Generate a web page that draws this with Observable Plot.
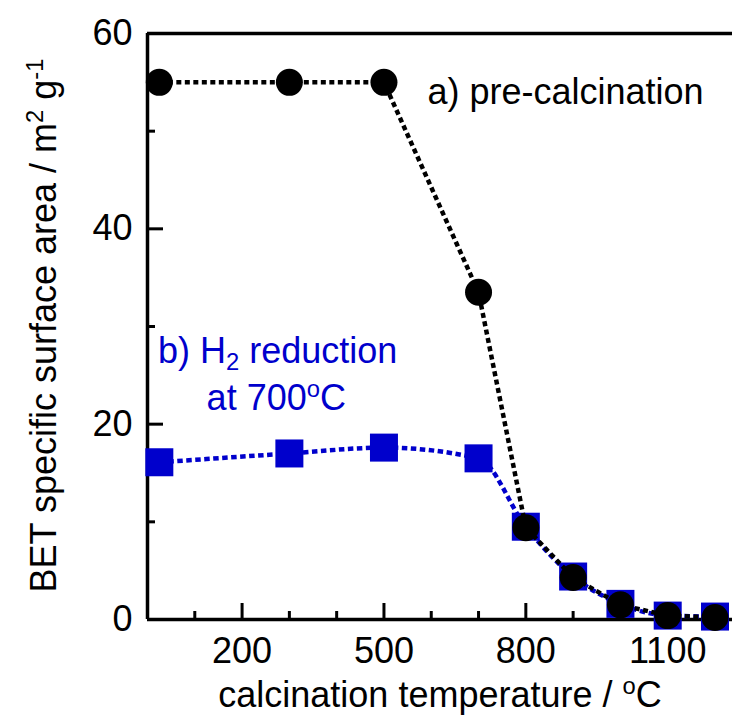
<!DOCTYPE html>
<html><head><meta charset="utf-8">
<script src="https://cdn.jsdelivr.net/npm/d3@7"></script>
<script src="https://cdn.jsdelivr.net/npm/@observablehq/plot@0.6"></script>
<style>
body{margin:0;background:#fff}
svg{font-family:"Liberation Sans",Arial,sans-serif}
</style>
</head><body><div id="chart"></div>
<script>
// data
const temps = [25, 300, 500, 700, 800, 900, 1000, 1100, 1200];
const preCalc = [55.0, 55.0, 55.0, 33.5, 9.4, 4.3, 1.5, 0.4, 0.2];
const h2Red = [16.1, 17.0, 17.6, 16.5, 9.5, 4.4, 1.6, 0.4, 0.3];
const xMajor = [200, 500, 800, 1100];
const xMinor = [100, 300, 400, 600, 700, 900, 1000, 1200];
const yMajor = [0, 20, 40, 60];
const yMinor = [10, 30, 50];
const xTitle = "calcination temperature / {^o}C";
const yTitle = "BET specific surface area / m{^2} g{^-1}";
const labelA = ["a) pre-calcination"];
const labelB1 = ["b) H{_2} reduction"];
const labelB2 = ["at 700{^o}C"];

const blue = "#0000cc";
const FS = 36;
const A = temps.map((t, i) => ({t, v: preCalc[i]}));
const B = temps.map((t, i) => ({t, v: h2Red[i]}));

const chart = Plot.plot({
  width: 732, height: 724,
  marginLeft: 147, marginRight: 0, marginTop: 33, marginBottom: 105,
  x: {domain: [0, 1237], axis: null},
  y: {domain: [0, 60], axis: null},
  style: {fontSize: FS + "px", fontFamily: '"Liberation Sans", Arial, sans-serif', color: "black", background: "white", overflow: "visible"},
  marks: [
    // axis lines
    Plot.ruleX([0], {strokeWidth: 3.5}),
    Plot.ruleY([0, 60], {strokeWidth: 3.5}),
    // ticks (inward)
    Plot.axisX(xMajor, {tickSize: -16, strokeWidth: 3, tickFormat: () => "", label: null}),
    Plot.axisX(xMinor, {tickSize: -8, strokeWidth: 3, tickFormat: () => "", label: null}),
    Plot.axisY(yMajor, {tickSize: -16, strokeWidth: 3, tickFormat: () => "", label: null}),
    Plot.axisY(yMinor, {tickSize: -8, strokeWidth: 3, tickFormat: () => "", label: null}),
    // tick labels
    Plot.axisX(xMajor, {tickSize: 0, tickPadding: 18, label: null, fontSize: FS, tickFormat: d => String(d)}),
    Plot.axisY(yMajor, {tickSize: 0, tickPadding: 15, label: null, fontSize: FS, tickFormat: d => String(d)}),
    // axis titles
    Plot.text([xTitle], {frameAnchor: "bottom", textAnchor: "middle", dy: 87, lineAnchor: "bottom", fontSize: FS}),
    Plot.text([yTitle], {frameAnchor: "left", textAnchor: "middle", dx: -92, dy: -1, rotate: -90, lineAnchor: "bottom", fontSize: FS}),
    // series b
    Plot.line(B, {x: "t", y: "v", stroke: blue, strokeWidth: 4.5, strokeDasharray: "5.5,3.5", strokeLinecap: "butt", curve: "monotone-x"}),
    Plot.dot(B, {x: "t", y: "v", symbol: "square", r: 15.8, fill: blue, stroke: "none"}),
    // series a
    Plot.line(A, {x: "t", y: "v", stroke: "black", strokeWidth: 4.5, strokeDasharray: "5,3.5", strokeLinecap: "butt"}),
    Plot.dot(A, {x: "t", y: "v", r: 13.5, fill: "black", stroke: "none"}),
    // annotations
    Plot.text(labelA, {x: 592, y: 52.8, textAnchor: "start", lineAnchor: "bottom", fontSize: FS}),
    Plot.text(labelB1, {x: 22, y: 26.3, textAnchor: "start", lineAnchor: "bottom", fontSize: FS, fill: blue}),
    Plot.text(labelB2, {x: 125, y: 21.4, textAnchor: "start", lineAnchor: "bottom", fontSize: FS, fill: blue})
  ]
});

// rich text: {^x} superscript, {_x} subscript
d3.select(chart).selectAll("text").each(function() {
  const s = this.textContent;
  if (!/\{[\^_]/.test(s)) return;
  const parts = s.split(/(\{[\^_][^}]*\})/).filter(p => p.length);
  this.textContent = "";
  const sel = d3.select(this);
  for (const p of parts) {
    const m = p.match(/^\{([\^_])([^}]*)\}$/);
    if (m) {
      sel.append("tspan").attr("font-size", "66%")
        .attr("baseline-shift", m[1] === "^" ? "55%" : "-30%").text(m[2]);
    } else {
      sel.append("tspan").text(p);
    }
  }
});

document.getElementById("chart").appendChild(chart);
</script>
</body></html>
